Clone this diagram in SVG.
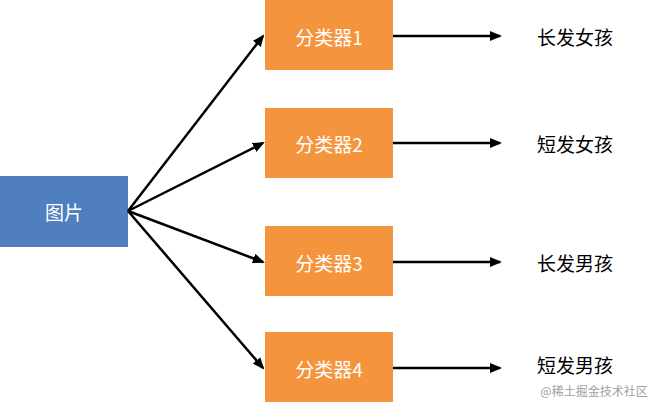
<svg xmlns="http://www.w3.org/2000/svg" width="660" height="405" viewBox="0 0 660 405">
<style>
.t{font-family:"Noto Sans CJK SC","Liberation Sans",sans-serif;font-size:19px;text-anchor:middle;dominant-baseline:central}
.w{fill:#fff}
.o{fill:#F4943D}
.c line{stroke:#000;stroke-width:2.5;marker-end:url(#a)}
</style>
<defs><marker id="a" markerWidth="12" markerHeight="10" refX="10" refY="5" orient="auto" markerUnits="userSpaceOnUse"><path d="M0,0 L12,5 L0,10 Z"/></marker></defs>
<rect width="660" height="405" fill="#fff"/>
<g id="img"><rect x="0" y="176" width="128" height="71" fill="#4F7FBF"/><text class="t w" x="64" y="211">图片</text></g>
<g id="c1"><rect class="o" x="265" y="0" width="128" height="70"/><text class="t w" x="329" y="36">分类器1</text></g>
<g id="c2"><rect class="o" x="265" y="108" width="128" height="70"/><text class="t w" x="329" y="143">分类器2</text></g>
<g id="c3"><rect class="o" x="265" y="226" width="128" height="70"/><text class="t w" x="329" y="262">分类器3</text></g>
<g id="c4"><rect class="o" x="265" y="332" width="128" height="70"/><text class="t w" x="329" y="368">分类器4</text></g>
<g id="l1"><text class="t" x="575" y="36">长发女孩</text></g>
<g id="l2"><text class="t" x="575" y="143">短发女孩</text></g>
<g id="l3"><text class="t" x="575" y="262">长发男孩</text></g>
<g id="l4"><text class="t" x="575" y="364">短发男孩</text></g>
<g class="c">
<line x1="128" y1="211" x2="263" y2="36"/>
<line x1="128" y1="211" x2="263" y2="143"/>
<line x1="128" y1="211" x2="263" y2="262"/>
<line x1="128" y1="211" x2="263" y2="368"/>
<line x1="393" y1="36" x2="500" y2="36"/>
<line x1="393" y1="143" x2="500" y2="143"/>
<line x1="393" y1="262" x2="500" y2="262"/>
<line x1="393" y1="368" x2="500" y2="368"/>
</g>
<text x="594" y="396" style="font-family:'Noto Sans CJK SC',sans-serif;font-size:12px;fill:#A0A0A0;text-anchor:middle">@稀土掘金技术社区</text>
</svg>
